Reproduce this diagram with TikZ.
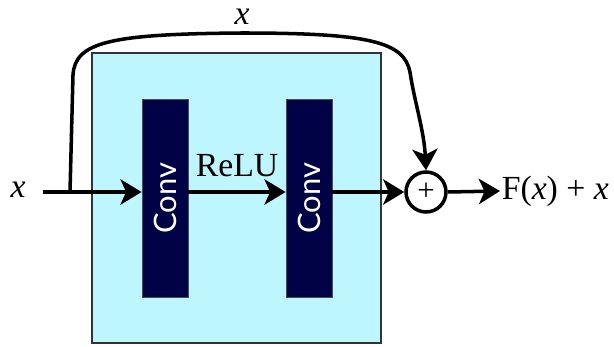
\documentclass[tikz,border=0pt]{standalone}
\usepackage{fontspec}
\setmainfont{Liberation Serif}
\newfontfamily\convfont{Lato}
\usetikzlibrary{arrows.meta}
\definecolor{lightcyan}{RGB}{189,246,253}
\definecolor{convnavy}{RGB}{0,2,70}
\begin{document}
\begin{tikzpicture}[x=0.025cm,y=-0.025cm,
    line width=2.5pt,
    >={Stealth[length=15pt,width=18pt,inset=4pt]},
    every node/.style={font=\fontsize{24}{28}\selectfont},
    convbox/.style={draw=gray!60!black,line width=0.6pt,fill=convnavy,
      minimum width=46*0.025cm,minimum height=198*0.025cm,inner sep=0pt},
    convtext/.style={rotate=90,text=white,font=\convfont\fontsize{22}{26}\selectfont}]
  \useasboundingbox (0,0) rectangle (614,347);
  % residual block
  \draw[draw=black!80,line width=1pt,fill=lightcyan] (92,53) rectangle (381,343);
  \node[convbox] (conv1) at (165,198) {};
  \node[convbox] (conv2) at (309,198) {};
  \node[convtext] at (conv1) {Conv};
  \node[convtext] at (conv2) {Conv};
  % input and sum
  \node (in) at (18,190) {\textit{x}};
  \coordinate (start) at (43,192);
  \coordinate (split) at (70,192);
  \node[draw,circle,minimum size=40*0.025cm,inner sep=0pt,fill=white] (sum) at (426,192) {};
  \node[font=\fontsize{22}{26}\selectfont] at (sum) {+};
  \node[anchor=west,inner sep=0pt] (out) at (500,191) {F(\textit{x}) + \textit{x}};
  % connectors
  \draw[->] (start) -- (conv1.west |- start);
  \draw[->] (conv1.east |- start) -- node[above=6pt] (relu) {ReLU} (conv2.west |- start);
  \draw[->] (conv2.east |- start) -- (sum.west);
  \draw[->] (sum.east) -- (out.west);
  % skip connection
  \draw[->] (split) -- (73,75) .. controls (75,42) and (110,34) .. (242,33)
    .. controls (370,33) and (404,42) .. (410,72)
    .. controls (414,100) and (424,130) .. (sum.north);
  \node[inner sep=1pt] (skip) at (242,17) {\textit{x}};
\end{tikzpicture}
\end{document}
